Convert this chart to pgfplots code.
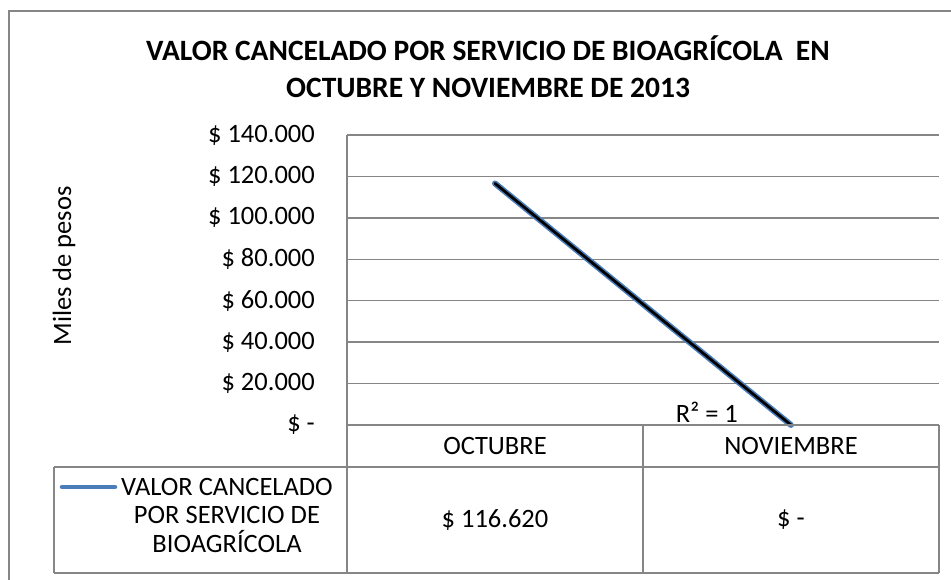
\documentclass[border=0pt]{standalone}
\usepackage{fontspec}
\setmainfont{Carlito}
\usepackage{pgfplots}
\pgfplotsset{compat=1.18}

\definecolor{gridgray}{HTML}{868686}
\definecolor{serieblue}{HTML}{4A7EBB}
\newcommand{\fs}{\fontsize{26.5}{31}\selectfont}

\begin{document}
\begin{tikzpicture}[x=1pt,y=1pt]
\useasboundingbox (0,0) rectangle (951,-580);
% marco exterior
\draw[gridgray, line width=1.5pt] (9,-590) -- (9,-11) -- (965,-11);

% titulo
\node[font=\fontsize{29.5}{37}\selectfont\bfseries, align=center] at (488,-67)
  {VALOR CANCELADO POR SERVICIO DE BIOAGRÍCOLA\ \ EN\\OCTUBRE Y NOVIEMBRE DE 2013};
\node[font=\fs, rotate=90] at (64,-266) {Miles de pesos};

\coordinate (origen) at (347,-425);
\begin{axis}[
    at={(origen)}, anchor=south west,
    scale only axis,
    width=592pt, height=290pt,
    xmin=-0.5, xmax=1.5,
    ymin=0, ymax=140000,
    xtick=\empty,
    ytick={0,20000,40000,60000,80000,100000,120000,140000},
    yticklabels={\$ -\hspace{14pt},\$ 20.000,\$ 40.000,\$ 60.000,\$ 80.000,\$ 100.000,\$ 120.000,\$ 140.000},
    scaled y ticks=false,
    yticklabel style={font=\fs, anchor=east, inner sep=0pt, xshift=-32pt},
    major tick length=0pt,
    axis lines*=left,
    axis line style={gridgray, line width=1.5pt, -},
    ymajorgrids=true,
    grid style={gridgray, line width=1.5pt},
    clip=false,
]
% serie
\addplot[serieblue, line width=6pt, line cap=round] coordinates {(0,116620) (1,0)};
% linea de tendencia lineal
\addplot[black, line width=2.8pt, line cap=round] coordinates {(0,116620) (1,0)};
\node[font=\fs] at (axis cs:0.716,6300) {R² = 1};
\end{axis}

% tabla de datos
\begin{scope}[gridgray, line width=1.5pt]
\draw (347,-425) -- (939,-425);
\draw (54,-467) -- (939,-467);
\draw (54,-573) -- (939,-573);
\draw (54,-467) -- (54,-573);
\draw (347,-425) -- (347,-573);
\draw (643,-425) -- (643,-573);
\draw (939,-425) -- (939,-573);
\end{scope}
\node[font=\fs] at (495,-446) {OCTUBRE};
\node[font=\fs] at (791,-446) {NOVIEMBRE};
\node[font=\fs] at (495,-520) {\$ 116.620};
\node[font=\fs] at (791,-520) {\$ -};
\draw[serieblue, line width=4.5pt, line cap=round] (62,-487) -- (115,-487);
\node[font=\fontsize{26.5}{28.5}\selectfont, align=center] at (227,-515)
  {VALOR CANCELADO\\POR SERVICIO DE\\BIOAGRÍCOLA};
\end{tikzpicture}
\end{document}
